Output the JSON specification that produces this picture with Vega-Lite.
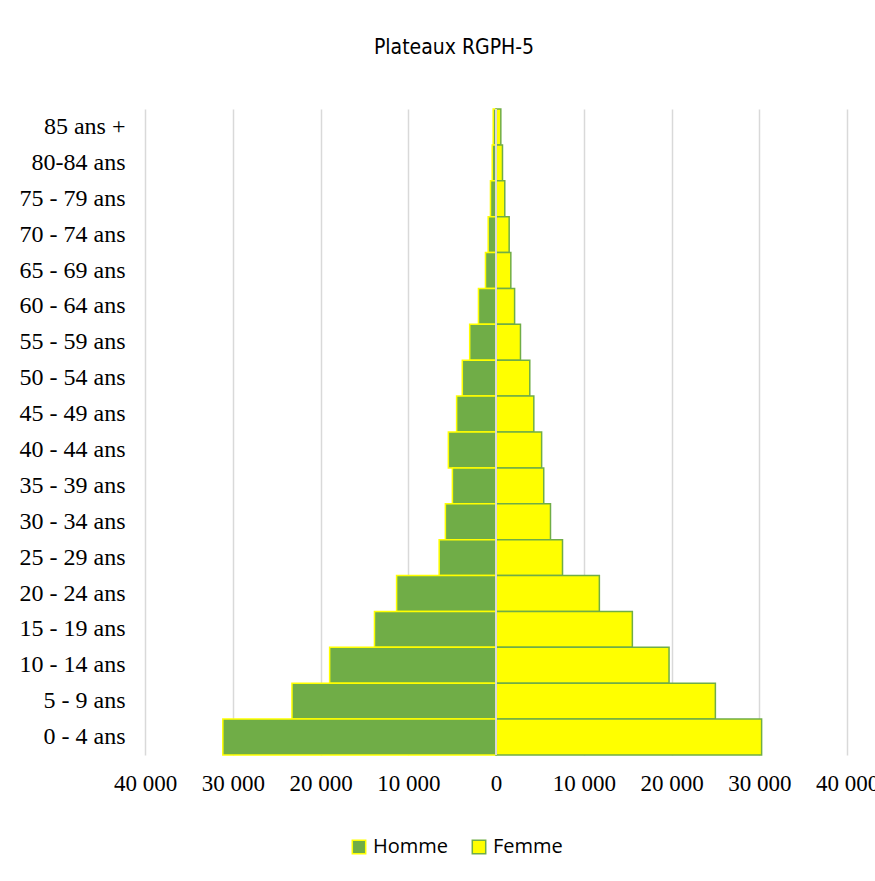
{
  "$schema": "https://vega.github.io/schema/vega-lite/v6.json",
  "width": 702,
  "height": 646,
  "autosize": {"type": "none"},
  "padding": {"left": 145, "top": 109, "right": 28, "bottom": 126},
  "background": "white",
  "config": {"view": {"stroke": null}},
  "title": {
    "text": "Plateaux RGPH-5",
    "font": "DejaVu Sans Condensed, Roboto, sans-serif",
    "fontSize": 21,
    "fontWeight": "normal",
    "color": "#000000",
    "anchor": "middle",
    "dx": -42,
    "offset": 50
  },
  "data": {
    "values": [
      {"age": "85 ans +", "sexe": "Homme", "population": -320},
      {"age": "85 ans +", "sexe": "Femme", "population": 550},
      {"age": "80-84 ans", "sexe": "Homme", "population": -430},
      {"age": "80-84 ans", "sexe": "Femme", "population": 740},
      {"age": "75 - 79 ans", "sexe": "Homme", "population": -630},
      {"age": "75 - 79 ans", "sexe": "Femme", "population": 1000},
      {"age": "70 - 74 ans", "sexe": "Homme", "population": -890},
      {"age": "70 - 74 ans", "sexe": "Femme", "population": 1500},
      {"age": "65 - 69 ans", "sexe": "Homme", "population": -1200},
      {"age": "65 - 69 ans", "sexe": "Femme", "population": 1690},
      {"age": "60 - 64 ans", "sexe": "Homme", "population": -2000},
      {"age": "60 - 64 ans", "sexe": "Femme", "population": 2120},
      {"age": "55 - 59 ans", "sexe": "Homme", "population": -3000},
      {"age": "55 - 59 ans", "sexe": "Femme", "population": 2790},
      {"age": "50 - 54 ans", "sexe": "Homme", "population": -3840},
      {"age": "50 - 54 ans", "sexe": "Femme", "population": 3850},
      {"age": "45 - 49 ans", "sexe": "Homme", "population": -4490},
      {"age": "45 - 49 ans", "sexe": "Femme", "population": 4310},
      {"age": "40 - 44 ans", "sexe": "Homme", "population": -5430},
      {"age": "40 - 44 ans", "sexe": "Femme", "population": 5200},
      {"age": "35 - 39 ans", "sexe": "Homme", "population": -4970},
      {"age": "35 - 39 ans", "sexe": "Femme", "population": 5440},
      {"age": "30 - 34 ans", "sexe": "Homme", "population": -5770},
      {"age": "30 - 34 ans", "sexe": "Femme", "population": 6210},
      {"age": "25 - 29 ans", "sexe": "Homme", "population": -6480},
      {"age": "25 - 29 ans", "sexe": "Femme", "population": 7580},
      {"age": "20 - 24 ans", "sexe": "Homme", "population": -11330},
      {"age": "20 - 24 ans", "sexe": "Femme", "population": 11780},
      {"age": "15 - 19 ans", "sexe": "Homme", "population": -13850},
      {"age": "15 - 19 ans", "sexe": "Femme", "population": 15540},
      {"age": "10 - 14 ans", "sexe": "Homme", "population": -18960},
      {"age": "10 - 14 ans", "sexe": "Femme", "population": 19720},
      {"age": "5 - 9 ans", "sexe": "Homme", "population": -23250},
      {"age": "5 - 9 ans", "sexe": "Femme", "population": 25000},
      {"age": "0 - 4 ans", "sexe": "Homme", "population": -31130},
      {"age": "0 - 4 ans", "sexe": "Femme", "population": 30270}
    ]
  },
  "layer": [
    {
      "mark": {"type": "bar", "strokeWidth": 1.5},
      "encoding": {
        "y": {
          "field": "age",
          "type": "nominal",
          "sort": ["85 ans +", "80-84 ans", "75 - 79 ans", "70 - 74 ans", "65 - 69 ans", "60 - 64 ans", "55 - 59 ans", "50 - 54 ans", "45 - 49 ans", "40 - 44 ans", "35 - 39 ans", "30 - 34 ans", "25 - 29 ans", "20 - 24 ans", "15 - 19 ans", "10 - 14 ans", "5 - 9 ans", "0 - 4 ans"],
          "scale": {"paddingInner": 0, "paddingOuter": 0},
          "axis": {
            "title": null,
            "domain": false,
            "ticks": false,
            "grid": false,
            "labelFont": "Liberation Serif",
            "labelFontSize": 24,
            "labelColor": "#000000",
            "labelPadding": 20
          }
        },
        "x": {
          "field": "population",
          "type": "quantitative",
          "scale": {"domain": [-40000, 40000], "nice": false},
          "axis": {
            "title": null,
            "domain": false,
            "ticks": false,
            "grid": true,
            "gridColor": "#D9D9D9",
            "gridWidth": 1.5,
            "values": [-40000, -30000, -20000, -10000, 0, 10000, 20000, 30000, 40000],
            "labelExpr": "replace(format(abs(datum.value), ','), ',', ' ')",
            "labelFont": "Liberation Serif",
            "labelFontSize": 23,
            "labelColor": "#000000",
            "labelPadding": 17,
            "labelOverlap": false,
            "labelBound": false,
            "labelFlush": false
          }
        },
        "fill": {
          "field": "sexe",
          "type": "nominal",
          "scale": {"domain": ["Homme", "Femme"], "range": ["#70AD47", "#FFFF00"]},
          "legend": {
            "title": null,
            "orient": "none",
            "legendX": 204,
            "legendY": 728,
            "direction": "horizontal",
            "symbolType": "square",
            "symbolSize": 180,
            "symbolStrokeWidth": 1.5,
            "labelFont": "Open Sans",
            "labelFontSize": 20,
            "labelColor": "#000000",
            "labelOffset": 4,
            "columnPadding": 20
          }
        },
        "stroke": {
          "field": "sexe",
          "type": "nominal",
          "scale": {"domain": ["Homme", "Femme"], "range": ["#FFFF00", "#70AD47"]}
        }
      }
    },
    {
      "mark": {"type": "rule", "color": "#D9D9D9", "strokeWidth": 2},
      "encoding": {"x": {"datum": 0, "type": "quantitative"}}
    }
  ]
}
